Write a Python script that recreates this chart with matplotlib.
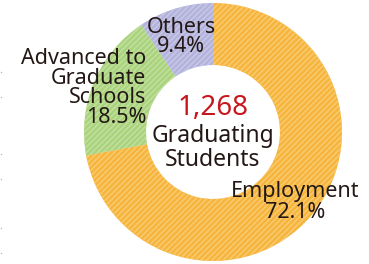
import matplotlib.pyplot as plt

labels = ["Employment", "Advanced to\nGraduate\nSchools", "Others"]
shares = [72.1, 18.5, 9.4]
colors = ["#F6B43A", "#A9D37B", "#B2B2DC"]
stripes = ["#F9C96E", "#C0DE9E", "#C6C6E6"]
total = "1,268"
# little grey marks on the left edge (image rows)
edge_marks = [72, 97, 154, 179, 228, 253]

plt.rcParams['font.family'] = ['Noto Sans', 'DejaVu Sans']
plt.rcParams['hatch.linewidth'] = 1.2

fig = plt.figure(figsize=(3.69, 2.64), dpi=100)
ax = fig.add_axes([0, 0, 1, 1])

wedges, _ = ax.pie(shares, colors=colors, startangle=90, counterclock=False,
                   center=(213, 132), radius=129, frame=True,
                   wedgeprops=dict(width=62, linewidth=0))
for w, c in zip(wedges, stripes):
  w.set_hatch("//////")
  w.set_edgecolor(c)
ax.set_xlim(0, 369)
ax.set_ylim(0, 264)
ax.axis("off")

ax.plot([1] * len(edge_marks), [264 - y for y in edge_marks], "s",
        color="#b5b5b5", markersize=0.9, markeredgewidth=0)

tc = "#231815"
ax.text(295, 62, "Employment\n72.1%", ha="center", va="center", fontsize=15.5,
        color=tc, linespacing=0.95)
ax.text(146, 176, "Advanced to\nGraduate\nSchools\n18.5%", ha="right", va="center",
        fontsize=15.5, color=tc, linespacing=0.9)
ax.text(181, 227, "Others\n9.4%", ha="center", va="center", fontsize=15.5,
        color=tc, linespacing=0.9)

ax.text(213, 156, total, ha="center", va="center", fontsize=20, color="#C8161E")
ax.text(213, 116, "Graduating\nStudents", ha="center", va="center", fontsize=16.5,
        color=tc, linespacing=1.0)

fig.savefig("out.png", dpi=100)
